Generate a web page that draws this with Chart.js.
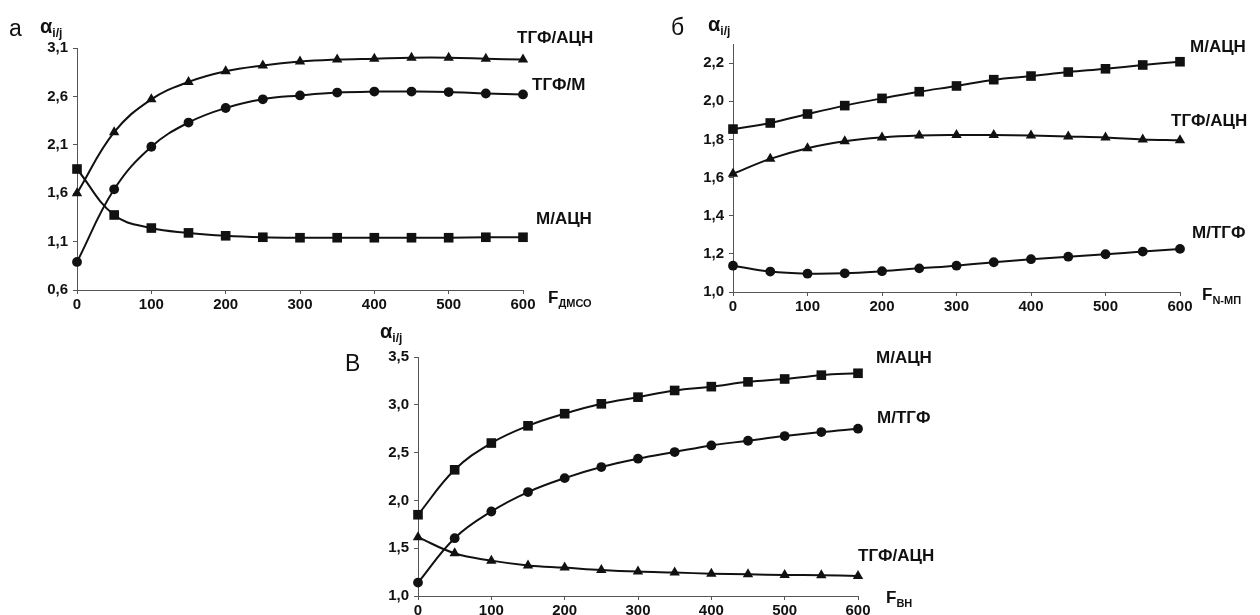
<!DOCTYPE html>
<html>
<head>
<meta charset="utf-8">
<script src="https://cdn.jsdelivr.net/npm/chart.js@4.4.1/dist/chart.umd.min.js"></script>
<style>
  body { margin: 0; background: #fff; }
  #wrap { position: relative; width: 1260px; height: 615px; overflow: hidden; font-family: "Liberation Sans", Arial, sans-serif; }
  canvas { position: absolute; }
  .lbl { position: absolute; font-weight: bold; font-size: 17px; line-height: 17px; color: #111; white-space: nowrap; }
  .lbl sub { font-size: 11px; vertical-align: -4px; }
  .letter { position: absolute; font-size: 23px; line-height: 23px; color: #111; }
  .alpha { position: absolute; font-weight: bold; font-size: 20px; line-height: 20px; color: #111; }
  .alpha sub { font-size: 12px; vertical-align: -4px; }
</style>
</head>
<body>
<div id="wrap">
  <canvas id="chartA" width="640" height="310" style="left:0px;top:0px"></canvas>
  <canvas id="chartB" width="620" height="315" style="left:640px;top:0px"></canvas>
  <canvas id="chartC" width="620" height="285" style="left:330px;top:330px"></canvas>

  <div class="letter" style="left:9px;top:17px">а</div>
  <div class="alpha" style="left:40px;top:16px">α<sub>i/j</sub></div>
  <div class="lbl" style="left:517px;top:29px">ТГФ/АЦН</div>
  <div class="lbl" style="left:532px;top:76px">ТГФ/М</div>
  <div class="lbl" style="left:536px;top:210px">М/АЦН</div>
  <div class="lbl" style="left:548px;top:289px">F<sub>ДМСО</sub></div>

  <div class="letter" style="left:671px;top:16px">б</div>
  <div class="alpha" style="left:708px;top:14px">α<sub>i/j</sub></div>
  <div class="lbl" style="left:1190px;top:38px">М/АЦН</div>
  <div class="lbl" style="left:1171px;top:112px">ТГФ/АЦН</div>
  <div class="lbl" style="left:1192px;top:224px">М/ТГФ</div>
  <div class="lbl" style="left:1202px;top:286px">F<sub>N-МП</sub></div>

  <div class="letter" style="left:345px;top:352px">В</div>
  <div class="alpha" style="left:380px;top:321px">α<sub>i/j</sub></div>
  <div class="lbl" style="left:876px;top:349px">М/АЦН</div>
  <div class="lbl" style="left:877px;top:409px">М/ТГФ</div>
  <div class="lbl" style="left:858px;top:547px">ТГФ/АЦН</div>
  <div class="lbl" style="left:886px;top:589px">F<sub>ВН</sub></div>
</div>
<script>
// shared x values (volume fraction) and tick labels
var xValues = [0, 50, 100, 150, 200, 250, 300, 350, 400, 450, 500, 550, 600];
var xTicks = [0, 100, 200, 300, 400, 500, 600];

// panel а - ДМСО
var aTgfAcn = [1.60, 2.23, 2.57, 2.75, 2.86, 2.92, 2.96, 2.98, 2.99, 3.00, 3.00, 2.99, 2.98];
var aTgfM   = [0.89, 1.64, 2.08, 2.33, 2.48, 2.57, 2.61, 2.64, 2.65, 2.65, 2.645, 2.63, 2.62];
var aMAcn   = [1.85, 1.375, 1.24, 1.19, 1.16, 1.145, 1.14, 1.14, 1.14, 1.14, 1.14, 1.145, 1.145];
var aYTicks = [0.6, 1.1, 1.6, 2.1, 2.6, 3.1];

// panel б - N-МП
var bMAcn   = [1.854, 1.886, 1.933, 1.977, 2.015, 2.05, 2.08, 2.113, 2.132, 2.153, 2.17, 2.19, 2.207];
var bTgfAcn = [1.62, 1.698, 1.754, 1.79, 1.81, 1.82, 1.823, 1.823, 1.82, 1.815, 1.81, 1.80, 1.795];
var bMTgf   = [1.138, 1.107, 1.096, 1.098, 1.109, 1.124, 1.138, 1.156, 1.172, 1.185, 1.198, 1.212, 1.226];
var bYTicks = [1.0, 1.2, 1.4, 1.6, 1.8, 2.0, 2.2];

// panel в - ВН
var cMAcn   = [1.85, 2.32, 2.60, 2.78, 2.907, 3.01, 3.08, 3.15, 3.19, 3.24, 3.27, 3.31, 3.33];
var cMTgf   = [1.14, 1.605, 1.884, 2.087, 2.233, 2.349, 2.436, 2.506, 2.575, 2.624, 2.673, 2.715, 2.75];
var cTgfAcn = [1.615, 1.447, 1.37, 1.32, 1.297, 1.272, 1.255, 1.245, 1.234, 1.227, 1.22, 1.217, 1.21];
var cYTicks = [1.0, 1.5, 2.0, 2.5, 3.0, 3.5];

function pts(ys) {
  return ys.map(function (y, i) { return { x: xValues[i], y: y }; });
}

function series(ys, style) {
  var radius = style === 'rect' ? 6.8 : (style === 'triangle' ? 6.0 : 4.9);
  return {
    data: pts(ys),
    borderColor: '#111',
    backgroundColor: '#111',
    borderWidth: 2,
    pointStyle: style,
    pointRadius: radius,
    pointBorderWidth: 0,
    tension: 0.4,
    clip: false
  };
}

function makeChart(id, datasets, yMin, yMax, yTicks, yWidth, pad) {
  var fmt = function (v) { return v.toFixed(1).replace('.', ','); };
  return new Chart(document.getElementById(id).getContext('2d'), {
    type: 'line',
    data: { datasets: datasets },
    options: {
      responsive: false,
      animation: false,
      devicePixelRatio: 1,
      layout: { padding: pad },
      plugins: { legend: { display: false }, tooltip: { enabled: false } },
      scales: {
        x: {
          type: 'linear', min: 0, max: 600,
          afterBuildTicks: function (s) { s.ticks = xTicks.map(function (v) { return { value: v }; }); },
          afterFit: function (s) { s.height = pad.xh; },
          ticks: { color: '#111', font: { family: 'Liberation Sans', weight: 'bold', size: 15 }, padding: 2, maxRotation: 0 },
          grid: { drawOnChartArea: false, tickLength: 4, color: '#555' },
          border: { color: '#555', width: 1 }
        },
        y: {
          min: yMin, max: yMax,
          afterBuildTicks: function (s) { s.ticks = yTicks.map(function (v) { return { value: v }; }); },
          afterFit: function (s) { s.width = yWidth; },
          ticks: { color: '#111', font: { family: 'Liberation Sans', weight: 'bold', size: 15 }, padding: 5,
            callback: function (v) { return fmt(v); } },
          grid: { drawOnChartArea: false, tickLength: 4, color: '#555' },
          border: { color: '#555', width: 1 }
        }
      }
    }
  });
}

makeChart('chartA', [series(aTgfAcn, 'triangle'), series(aTgfM, 'circle'), series(aMAcn, 'rect')],
  0.6, 3.1, aYTicks, 77, { left: 0, right: 117, top: 48, bottom: 0, xh: 20 });

makeChart('chartB', [series(bMAcn, 'rect'), series(bTgfAcn, 'triangle'), series(bMTgf, 'circle')],
  1.0, 2.3, bYTicks, 93, { left: 0, right: 80, top: 44, bottom: 0, xh: 23 });

makeChart('chartC', [series(cMAcn, 'rect'), series(cMTgf, 'circle'), series(cTgfAcn, 'triangle')],
  1.0, 3.5, cYTicks, 88, { left: 0, right: 92, top: 27, bottom: 0, xh: 19 });
</script>
</body>
</html>
